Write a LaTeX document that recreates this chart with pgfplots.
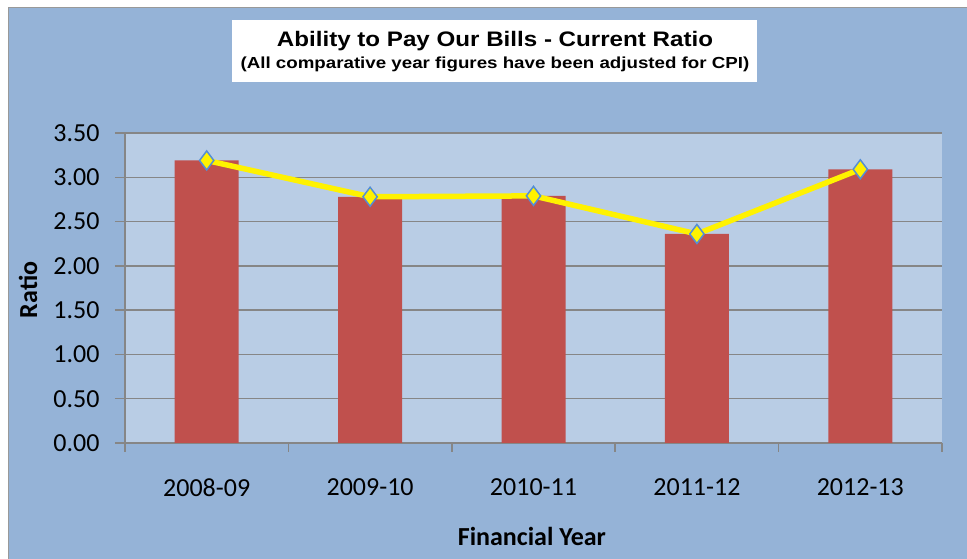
\documentclass[border=0pt]{standalone}
\usepackage{pgfplots}
\pgfplotsset{compat=1.18}
\usepackage{fontspec}
\setmainfont{Carlito}
\newfontfamily\arialfont{Liberation Sans}
\definecolor{outerbg}{RGB}{149,179,215}
\definecolor{plotbg}{RGB}{185,205,229}
\definecolor{barred}{RGB}{192,80,77}
\definecolor{gridgray}{RGB}{134,134,134}
\definecolor{markblue}{RGB}{85,142,213}
\begin{document}
\begin{tikzpicture}
\fill[white] (0,0) rectangle (967pt,559pt);
\fill[outerbg] (8pt,0) rectangle (967pt,551pt);
\draw[gray!80, line width=1pt] (8pt,0) -- (8pt,551pt) -- (967pt,551pt);
\fill[white] (232pt,477pt) rectangle (757pt,539pt);
\node[font=\arialfont\bfseries\fontsize{21}{24}\selectfont] at (495pt,518pt) {\scalebox{1.15}[1]{Ability to Pay Our Bills - Current Ratio}};
\node[font=\arialfont\bfseries\fontsize{16}{19}\selectfont] at (495pt,495pt) {\scalebox{1.17}[1]{(All comparative year figures have been adjusted for CPI)}};
\begin{axis}[
  at={(125pt,116pt)}, anchor=south west,
  scale only axis, width=817pt, height=310pt,
  xmin=-0.5, xmax=4.5, ymin=0, ymax=3.5,
  clip=false,
  axis background/.style={fill=plotbg},
  axis lines*=left,
  axis line style={gridgray, line width=1.5pt},
  ytick={0,0.5,...,3.5},
  ymajorgrids,
  grid style={gridgray, line width=1.5pt},
  tick align=outside,
  major tick length=10pt,
  minor tick length=9pt,
  ytick style={gridgray, line width=1.5pt},
  xtick={0,1,2,3,4},
  xticklabels={2008-09,2009-10,2010-11,2011-12,2012-13},
  minor xtick={-0.5,0.5,1.5,2.5,3.5,4.5},
  major x tick style={draw=none},
  minor x tick style={gridgray, line width=1.5pt},
  tick label style={font=\fontsize{26}{30}\selectfont},
  /pgf/number format/fixed,
  /pgf/number format/fixed zerofill,
  /pgf/number format/precision=2,
  /pgf/number format/assume math mode=true,
  yticklabel style={xshift=-12pt},
  xticklabel style={yshift=-22pt},
  xlabel={Financial Year},
  ylabel={Ratio},
  label style={font=\bfseries\fontsize{26}{30}\selectfont},
  xlabel style={at={(axis description cs:0.498,-0.303)}, anchor=center},
  ylabel style={at={(axis description cs:-0.1187,0.4935)}, anchor=center},
]
\addplot[ybar, bar width=64pt, fill=barred, draw=none] coordinates {(0,3.19) (1,2.78) (2,2.79) (3,2.36) (4,3.09)};
\addplot[color=yellow, line width=5.5pt, mark=diamond*, mark size=9.5pt, mark options={fill=yellow, draw=markblue, line width=1.5pt}] coordinates {(0,3.19) (1,2.78) (2,2.79) (3,2.36) (4,3.09)};
\end{axis}
\pgfresetboundingbox
\path[use as bounding box] (0,0) rectangle (967pt,559pt);
\end{tikzpicture}
\end{document}
